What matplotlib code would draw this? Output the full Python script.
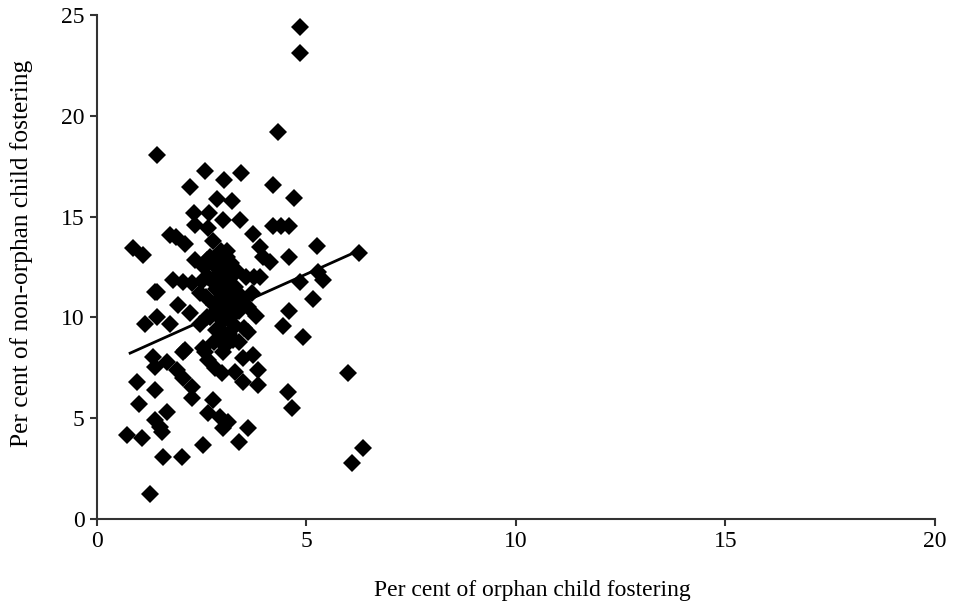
import numpy as np
import matplotlib
matplotlib.use('Agg')
import matplotlib.pyplot as plt

plt.rcParams['font.family'] = ['Liberation Serif', 'DejaVu Serif']

# per cent of orphan child fostering
orphan = [4.85, 4.85, 4.33, 1.42, 2.58, 3.43, 3.04, 2.22, 4.19, 4.69,
          2.86, 3.21, 2.32, 2.68, 3.00, 3.41, 2.34, 2.65, 4.19, 4.38,
          4.58, 3.73, 1.89, 1.75, 2.10, 0.87, 1.10, 5.24, 3.89, 3.97,
          4.13, 4.58, 6.26, 5.28, 5.40, 4.84, 1.82, 2.06, 2.26, 1.42,
          3.10, 5.16, 1.38, 1.94, 4.59, 3.79, 4.45, 4.92, 1.15, 1.42,
          1.74, 2.46, 2.06, 2.58, 1.34, 1.38, 1.66, 1.90, 2.06, 2.26,
          2.26, 2.66, 2.82, 2.98, 3.29, 3.49, 3.73, 3.85, 3.85, 0.95,
          1.38, 1.01, 1.66, 1.38, 1.50, 1.54, 0.71, 1.07, 2.78, 2.66,
          2.94, 3.13, 3.01, 2.54, 3.40, 3.61, 1.57, 2.02, 1.26, 6.00,
          4.55, 4.65, 6.08, 6.36, 2.46, 2.22, 2.10, 2.53,
          # dense centre
          2.70, 2.80, 2.90, 3.00, 3.10, 3.20, 2.75, 2.85, 2.95, 3.05,
          3.15, 3.25, 3.30, 2.80, 2.90, 3.00, 3.10, 3.20, 3.30, 2.85,
          2.95, 3.05, 3.15, 3.25, 2.70, 2.60, 2.65, 3.40, 3.45, 3.50,
          3.35, 2.55, 2.50, 2.95, 3.10, 2.80, 3.00, 3.40, 3.60, 3.70,
          3.55, 3.75, 3.60, 2.77, 2.62, 2.34, 2.62, 3.49, 3.89,
          2.90, 3.00, 3.10, 2.90, 3.20, 3.00, 2.80, 3.20, 3.00, 2.90,
          3.10]

# per cent of non-orphan child fostering
non_orphan = [24.4, 23.1, 19.2, 18.05, 17.26, 17.15, 16.8, 16.45, 16.55, 15.94,
              15.87, 15.79, 15.16, 15.16, 14.83, 14.83, 14.58, 14.43, 14.53, 14.53,
              14.53, 14.14, 14.0, 14.1, 13.67, 13.46, 13.1, 13.56, 13.5, 13.01,
              12.76, 13.01, 13.18, 12.27, 11.86, 11.77, 11.86, 11.77, 11.69, 11.28,
              13.3, 10.9, 11.25, 10.6, 10.33, 10.07, 9.57, 9.04, 9.7, 10.03,
              9.7, 9.7, 8.3, 8.3, 8.05, 7.55, 7.8, 7.39, 6.98, 6.56,
              5.98, 7.89, 7.47, 7.23, 7.31, 6.81, 8.13, 7.39, 6.65, 6.81,
              6.4, 5.69, 5.32, 4.91, 4.58, 4.33, 4.17, 4.0, 5.9, 5.24,
              5.07, 4.83, 4.5, 3.67, 3.83, 4.53, 3.09, 3.06, 1.24, 7.26,
              6.31, 5.49, 2.76, 3.51, 11.2, 10.2, 8.4, 8.5,
              # dense centre
              13.0, 12.6, 12.2, 12.8, 12.4, 12.0, 11.8, 11.4, 11.0, 11.6,
              11.2, 10.8, 11.5, 10.6, 10.2, 9.8, 10.4, 10.0, 9.6, 9.4,
              9.0, 8.6, 9.2, 8.9, 10.0, 11.0, 12.0, 10.3, 11.0, 9.5,
              12.3, 12.5, 11.8, 13.3, 13.0, 8.8, 8.3, 8.8, 9.3, 11.2,
              12.0, 12.0, 10.5, 13.8, 12.85, 12.85, 10.0, 8.0, 12.0,
              11.7, 11.3, 10.9, 10.8, 11.6, 10.6, 12.9, 12.7, 9.3, 12.9,
              9.0]

# fitted trend line end points
trend_x = [0.79, 6.11]
trend_y = [8.23, 13.19]

fig = plt.figure(figsize=(9.54, 6.07), dpi=100)
ax = fig.add_axes([0.1017, 0.145, 0.8783, 0.83])

ax.plot(orphan, non_orphan, 'D', color='black', markersize=9.2, markeredgewidth=0)
ax.plot(trend_x, trend_y, color='black', lw=2)

ax.set_xlim(0, 20)
ax.set_ylim(0, 25)
ax.set_xticks([0, 5, 10, 15, 20])
ax.set_yticks([0, 5, 10, 15, 20, 25])

for side in ['top', 'right']:
    ax.spines[side].set_visible(False)
for side in ['left', 'bottom']:
    ax.spines[side].set_color('#333333')
    ax.spines[side].set_linewidth(1.5)
ax.tick_params(direction='out', length=5, width=1.5, color='#333333',
               labelsize=17, pad=4)

ax.set_xlabel('Per cent of orphan child fostering', fontsize=17)
ax.set_ylabel('Per cent of non-orphan child fostering', fontsize=18.3)
ax.xaxis.set_label_coords(0.52, -0.122)
ax.yaxis.set_label_coords(-0.0764, 0.528)

fig.savefig('out.png', dpi=100)
